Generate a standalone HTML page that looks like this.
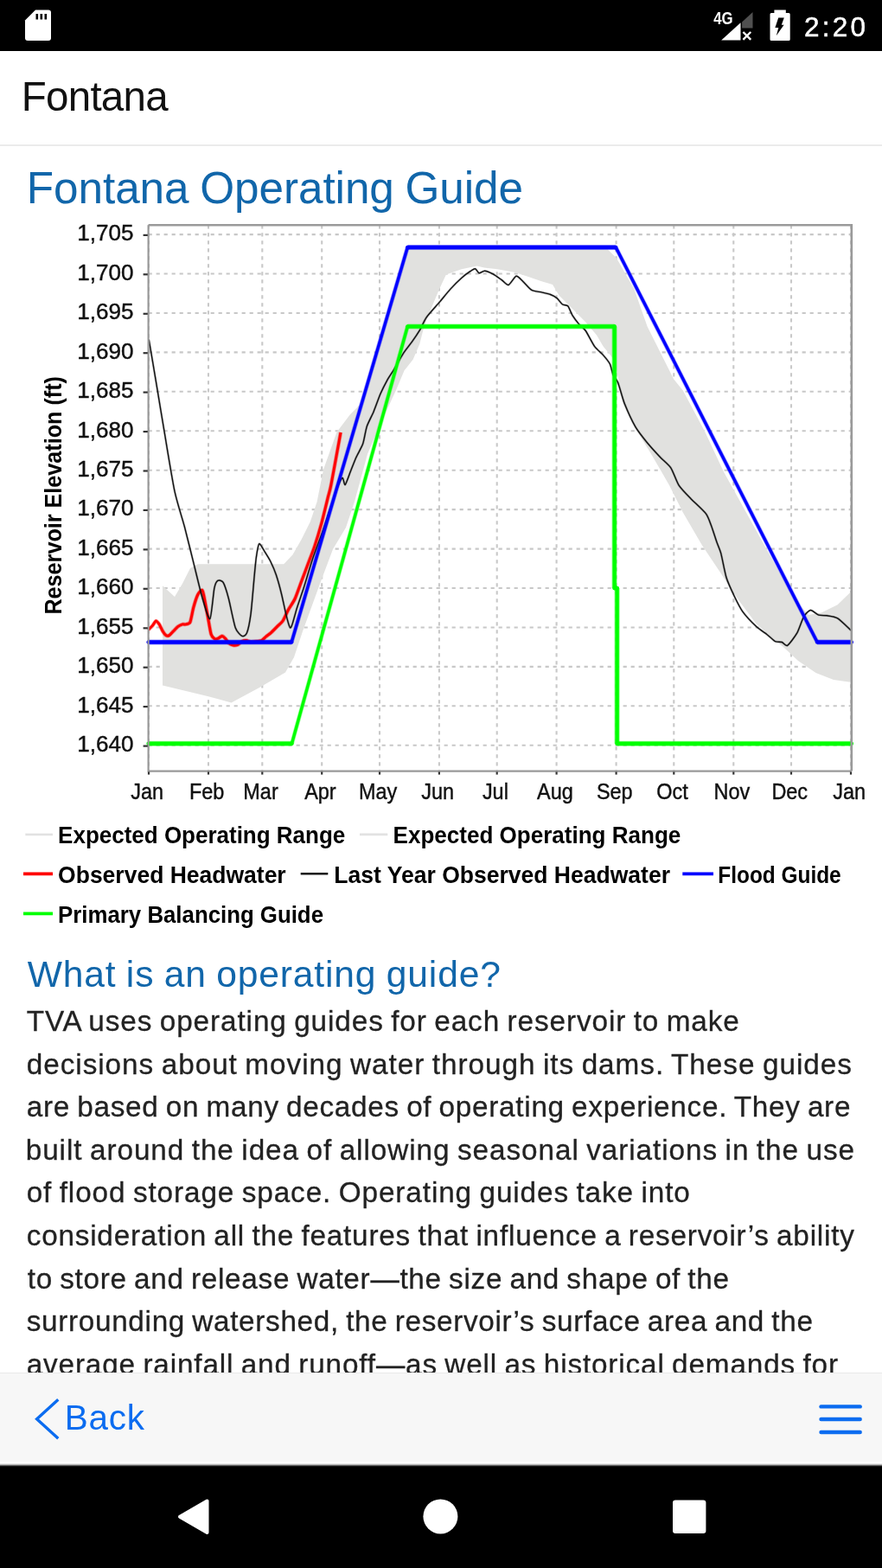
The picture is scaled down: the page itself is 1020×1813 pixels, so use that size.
<!DOCTYPE html>
<html lang="en"><head><meta charset="utf-8"><title>Fontana</title>
<meta name="viewport" content="width=1020">
<style>
html,body{margin:0;padding:0;background:#fff}
body{width:1020px;height:1813px;position:relative;overflow:hidden;font-family:'Liberation Sans', Arial, sans-serif}
.t{position:absolute;white-space:pre;line-height:1;margin:0;padding:0}
.p{-webkit-text-stroke:0.3px #222}
.clock{-webkit-text-stroke:0.5px #fff}
#status{position:absolute;left:0;top:0;width:1020px;height:59px;background:#000}
#header{position:absolute;left:0;top:59px;width:1020px;height:108px;background:#fff;border-bottom:2px solid #ebebeb}
#toolbar{position:absolute;left:0;top:1587px;width:1020px;height:102px;background:#f7f7f7;border-top:1px solid #e9e9e9;border-bottom:2px solid #fdfdfd}
#edge{position:absolute;left:0;top:1692px;width:1020px;height:4px;background:linear-gradient(#e6e6e6 0 25%,#b6b6b6 25% 50%,#606060 50% 75%,#151515 75% 100%)}
#nav{position:absolute;left:0;top:1696px;width:1020px;height:117px;background:#000}
svg{display:block}

</style></head><body>
<div id="status"></div><div id="header"></div>
<svg id="chart" width="1020" height="850" viewBox="0 250 1020 850" style="position:absolute;left:0;top:250px">
<g font-family="'Liberation Sans',Arial,sans-serif">
<rect x="171.6" y="260.3" width="813.2" height="631.3" fill="#fff" stroke="none"/>
<g stroke="#c8c8c8" stroke-width="2.1" stroke-dasharray="4.2 4.8" fill="none">
<line x1="172.0" y1="260.3" x2="172.0" y2="891.6"/>
<line x1="241.0" y1="260.3" x2="241.0" y2="891.6"/>
<line x1="303.3" y1="260.3" x2="303.3" y2="891.6"/>
<line x1="372.2" y1="260.3" x2="372.2" y2="891.6"/>
<line x1="439.0" y1="260.3" x2="439.0" y2="891.6"/>
<line x1="507.9" y1="260.3" x2="507.9" y2="891.6"/>
<line x1="574.7" y1="260.3" x2="574.7" y2="891.6"/>
<line x1="643.6" y1="260.3" x2="643.6" y2="891.6"/>
<line x1="712.6" y1="260.3" x2="712.6" y2="891.6"/>
<line x1="779.3" y1="260.3" x2="779.3" y2="891.6"/>
<line x1="848.3" y1="260.3" x2="848.3" y2="891.6"/>
<line x1="915.0" y1="260.3" x2="915.0" y2="891.6"/>
<line x1="984.0" y1="260.3" x2="984.0" y2="891.6"/>
<line x1="171.6" y1="861.8" x2="984.8" y2="861.8"/>
<line x1="171.6" y1="816.3" x2="984.8" y2="816.3"/>
<line x1="171.6" y1="770.9" x2="984.8" y2="770.9"/>
<line x1="171.6" y1="725.5" x2="984.8" y2="725.5"/>
<line x1="171.6" y1="680.0" x2="984.8" y2="680.0"/>
<line x1="171.6" y1="634.6" x2="984.8" y2="634.6"/>
<line x1="171.6" y1="589.1" x2="984.8" y2="589.1"/>
<line x1="171.6" y1="543.7" x2="984.8" y2="543.7"/>
<line x1="171.6" y1="498.3" x2="984.8" y2="498.3"/>
<line x1="171.6" y1="452.8" x2="984.8" y2="452.8"/>
<line x1="171.6" y1="407.4" x2="984.8" y2="407.4"/>
<line x1="171.6" y1="362.0" x2="984.8" y2="362.0"/>
<line x1="171.6" y1="316.5" x2="984.8" y2="316.5"/>
<line x1="171.6" y1="271.1" x2="984.8" y2="271.1"/>
</g>
<polygon points="188.0,792.5 188.0,677.3 202.0,690.0 211.0,674.7 220.0,656.9 228.8,652.3 328.2,652.3 338.4,641.6 348.6,623.7 358.8,603.3 366.5,580.4 374.0,543.0 389.4,499.8 404.7,479.4 420.0,464.0 471.3,287.0 702.7,288.2 713.0,298.4 733.3,334.1 748.6,377.5 763.9,408.0 779.2,438.6 789.8,451.4 814.9,498.4 836.9,545.5 868.2,602.0 899.6,658.4 920.0,694.0 935.0,711.0 949.8,708.6 968.6,699.2 984.8,683.5 984.8,788.4 981.8,788.4 964.0,786.0 943.5,778.0 923.0,764.0 905.3,747.6 899.6,743.1 874.5,721.2 855.7,696.1 836.9,667.8 811.8,630.2 789.8,592.5 774.1,561.2 752.2,523.5 734.9,495.3 720.8,467.1 711.4,420.0 707.8,413.1 697.6,400.4 690.0,387.6 677.3,372.4 662.0,357.1 646.7,341.8 639.0,329.0 626.3,325.2 611.0,320.1 595.7,315.0 575.3,311.2 560.0,309.5 551.6,307.4 533.7,311.2 515.9,317.5 508.2,334.1 500.6,352.0 490.4,377.5 485.3,397.8 477.6,415.7 467.5,428.4 458.5,450.1 440.0,490.0 425.0,525.0 410.0,580.0 400.0,610.0 385.0,635.0 370.0,675.0 350.0,730.0 340.0,760.0 330.0,777.5 300.0,795.0 267.5,812.5 240.0,805.0" fill="#e1e1df"/>
<path d="M171.5,728.2C172.1,727.6 175.6,724.3 176.6,723.1C177.6,721.9 179.5,718.1 180.4,718.0C181.3,717.9 183.3,720.6 184.2,721.9C185.1,723.2 187.1,728.0 188.0,729.5C188.9,731.0 191.0,734.0 191.9,734.6C192.8,735.2 194.7,735.2 195.7,734.6C196.7,734.0 199.6,730.7 200.8,729.5C202.0,728.3 204.7,725.3 205.9,724.4C207.1,723.5 210.0,722.2 211.0,721.9C212.0,721.6 213.8,722.2 214.8,721.9C215.8,721.6 218.9,721.5 219.9,719.3C220.9,717.1 222.7,706.4 223.7,702.7C224.7,699.0 227.6,689.9 228.8,687.5C230.0,685.1 233.0,681.8 233.9,682.4C234.8,683.0 235.8,688.9 236.5,692.5C237.2,696.1 239.4,708.1 240.3,712.9C241.2,717.7 243.2,730.3 244.1,733.3C245.0,736.3 247.0,737.8 247.9,738.4C248.8,739.0 250.8,738.8 251.8,738.4C252.8,738.0 255.9,735.4 256.9,735.4C257.9,735.4 259.8,737.5 260.7,738.4C261.6,739.3 263.5,742.6 264.5,743.5C265.5,744.4 268.4,745.9 269.6,746.1C270.8,746.3 273.5,746.1 274.7,745.6C275.9,745.1 278.6,742.1 279.8,741.5C281.0,740.9 283.7,740.4 284.9,740.5C286.1,740.6 288.5,742.2 290.0,742.3C291.5,742.4 296.1,741.7 297.6,741.5C299.1,741.3 301.5,741.2 302.7,740.5C303.9,739.8 306.6,736.9 307.8,735.9C309.0,734.9 311.4,733.4 312.9,732.1C314.4,730.8 319.0,726.0 320.6,724.4C322.2,722.8 325.5,720.2 327.0,718.0C328.5,715.8 331.7,708.3 333.3,705.3C334.9,702.3 339.2,696.4 341.0,692.5C342.8,688.6 346.8,676.9 348.6,672.2C350.4,667.5 354.5,656.6 356.3,651.8C358.1,647.0 362.1,636.8 363.9,631.4C365.7,626.0 369.8,612.4 371.6,605.9C373.4,599.4 377.9,580.7 379.2,575.3C380.5,569.9 381.3,568.8 383.0,560.0C384.7,551.2 392.7,507.0 394.0,500.0" fill="none" stroke="#ff0000" stroke-opacity="0.4" stroke-width="4.6" stroke-linejoin="round"/>
<path d="M171.5,728.2C172.1,727.6 175.6,724.3 176.6,723.1C177.6,721.9 179.5,718.1 180.4,718.0C181.3,717.9 183.3,720.6 184.2,721.9C185.1,723.2 187.1,728.0 188.0,729.5C188.9,731.0 191.0,734.0 191.9,734.6C192.8,735.2 194.7,735.2 195.7,734.6C196.7,734.0 199.6,730.7 200.8,729.5C202.0,728.3 204.7,725.3 205.9,724.4C207.1,723.5 210.0,722.2 211.0,721.9C212.0,721.6 213.8,722.2 214.8,721.9C215.8,721.6 218.9,721.5 219.9,719.3C220.9,717.1 222.7,706.4 223.7,702.7C224.7,699.0 227.6,689.9 228.8,687.5C230.0,685.1 233.0,681.8 233.9,682.4C234.8,683.0 235.8,688.9 236.5,692.5C237.2,696.1 239.4,708.1 240.3,712.9C241.2,717.7 243.2,730.3 244.1,733.3C245.0,736.3 247.0,737.8 247.9,738.4C248.8,739.0 250.8,738.8 251.8,738.4C252.8,738.0 255.9,735.4 256.9,735.4C257.9,735.4 259.8,737.5 260.7,738.4C261.6,739.3 263.5,742.6 264.5,743.5C265.5,744.4 268.4,745.9 269.6,746.1C270.8,746.3 273.5,746.1 274.7,745.6C275.9,745.1 278.6,742.1 279.8,741.5C281.0,740.9 283.7,740.4 284.9,740.5C286.1,740.6 288.5,742.2 290.0,742.3C291.5,742.4 296.1,741.7 297.6,741.5C299.1,741.3 301.5,741.2 302.7,740.5C303.9,739.8 306.6,736.9 307.8,735.9C309.0,734.9 311.4,733.4 312.9,732.1C314.4,730.8 319.0,726.0 320.6,724.4C322.2,722.8 325.5,720.2 327.0,718.0C328.5,715.8 331.7,708.3 333.3,705.3C334.9,702.3 339.2,696.4 341.0,692.5C342.8,688.6 346.8,676.9 348.6,672.2C350.4,667.5 354.5,656.6 356.3,651.8C358.1,647.0 362.1,636.8 363.9,631.4C365.7,626.0 369.8,612.4 371.6,605.9C373.4,599.4 377.9,580.7 379.2,575.3C380.5,569.9 381.3,568.8 383.0,560.0C384.7,551.2 392.7,507.0 394.0,500.0" fill="none" stroke="#ff0000" stroke-width="3.0" stroke-linejoin="round"/>
<path d="M172.2,392.7C173.2,398.4 178.3,428.4 180.4,441.2C182.5,454.0 188.1,487.5 190.6,502.4C193.1,517.3 199.4,556.1 202.1,568.6C204.8,581.1 211.0,599.9 213.5,609.4C216.0,618.9 221.3,640.7 223.7,650.2C226.1,659.7 231.7,683.4 233.9,691.0C236.1,698.6 241.2,716.8 242.8,715.5C244.4,714.2 246.8,684.9 247.9,679.8C249.0,674.7 250.6,672.1 251.8,671.4C253.0,670.7 256.6,670.9 258.1,673.4C259.6,675.9 262.9,686.4 264.5,692.5C266.1,698.6 270.4,720.7 272.2,725.7C274.0,730.7 278.3,734.7 279.8,735.4C281.3,736.1 284.2,735.0 285.4,732.1C286.6,729.2 289.0,717.7 290.0,710.4C291.0,703.1 293.1,677.3 293.8,669.6C294.5,661.9 295.7,648.9 296.4,644.1C297.1,639.3 298.7,629.7 299.7,628.8C300.7,627.9 303.8,634.1 305.3,636.5C306.8,638.9 311.3,645.9 312.9,649.2C314.5,652.5 317.8,660.0 319.3,664.5C320.8,669.0 324.4,682.1 325.7,687.5C327.0,692.9 329.7,705.9 330.8,710.4C331.9,714.9 334.5,724.5 335.4,725.7C336.3,726.9 337.5,723.3 338.4,720.6C339.3,717.9 342.0,707.5 343.5,702.7C345.0,697.9 349.1,686.3 351.2,679.8C353.3,673.3 359.0,653.8 361.4,646.7C363.8,639.6 369.2,625.4 371.6,618.6C374.0,611.8 379.6,594.5 381.8,588.0C384.0,581.5 389.0,566.6 390.7,562.5C392.4,558.4 395.1,552.7 396.1,552.5C397.1,552.3 398.1,561.3 399.2,560.4C400.3,559.5 404.0,548.4 405.5,544.7C407.0,541.0 410.2,532.7 411.8,529.0C413.4,525.3 418.1,517.5 419.6,513.3C421.1,509.1 422.8,497.3 424.3,492.9C425.8,488.5 430.4,480.1 432.2,475.7C434.0,471.3 438.2,459.5 440.0,455.3C441.8,451.1 446.0,442.9 447.8,439.6C449.6,436.3 453.5,430.8 455.7,427.1C457.9,423.4 464.3,411.9 466.7,408.2C469.1,404.5 473.9,398.8 476.1,395.7C478.3,392.6 483.5,384.9 485.5,381.6C487.5,378.3 490.3,371.1 492.9,367.3C495.5,363.5 504.9,353.3 508.2,349.4C511.5,345.5 518.0,337.4 521.0,334.1C524.0,330.8 531.0,323.8 533.7,321.4C536.4,319.0 542.1,314.9 543.9,313.7C545.7,312.5 548.3,310.5 549.5,310.7C550.7,310.9 552.8,315.5 554.1,315.8C555.4,316.1 558.6,313.1 560.5,313.2C562.4,313.3 567.9,315.6 570.2,316.8C572.5,318.0 578.3,322.4 580.4,323.9C582.5,325.4 586.1,330.0 588.0,329.5C589.9,329.0 595.1,319.8 597.0,319.3C598.9,318.8 602.5,323.3 604.6,325.2C606.7,327.1 612.3,333.9 614.8,335.4C617.3,336.9 623.8,337.3 626.3,337.9C628.8,338.5 634.4,339.7 636.5,340.5C638.6,341.3 642.5,343.5 644.1,344.8C645.7,346.1 649.0,350.9 650.5,352.0C652.0,353.1 655.6,352.5 656.9,354.0C658.2,355.5 660.5,362.3 662.0,364.7C663.5,367.1 667.8,372.8 669.6,374.9C671.4,377.0 675.2,379.5 677.3,382.5C679.4,385.5 685.1,397.1 687.5,400.4C689.9,403.7 695.5,408.2 697.6,410.6C699.7,413.0 704.0,418.1 705.3,420.8C706.6,423.5 708.0,431.0 709.1,433.5C710.2,436.0 712.9,438.1 714.5,442.0C716.1,445.9 720.0,461.1 722.4,467.1C724.8,473.1 731.8,488.4 734.9,493.7C738.0,499.0 745.7,508.5 749.0,512.5C752.3,516.5 760.0,524.9 763.1,528.2C766.2,531.5 773.1,536.9 775.7,540.8C778.3,544.6 782.4,557.0 785.1,561.2C787.8,565.4 795.5,573.1 799.2,576.9C802.9,580.7 813.8,590.4 816.5,594.1C819.2,597.8 821.2,604.4 822.7,608.2C824.2,612.1 827.7,623.4 829.0,627.1C830.3,630.8 832.4,634.9 833.7,639.6C835.0,644.3 838.2,661.9 840.0,667.8C841.8,673.7 847.2,685.2 849.4,689.8C851.6,694.4 855.9,703.1 858.8,707.1C861.7,711.1 871.2,721.2 874.5,724.3C877.8,727.4 884.5,731.7 887.1,733.7C889.7,735.7 894.5,740.6 896.5,741.6C898.5,742.6 902.7,742.0 904.3,742.5C905.9,743.0 908.6,747.5 910.6,746.3C912.6,745.1 919.4,736.1 921.6,732.2C923.8,728.4 927.6,716.4 929.4,713.3C931.2,710.2 935.3,705.8 937.3,705.5C939.3,705.2 944.5,710.4 946.7,711.1C948.9,711.8 953.5,711.4 956.1,711.8C958.7,712.2 965.3,712.9 968.6,714.9C971.9,716.9 982.5,727.4 984.3,729.0" fill="none" stroke="#000" stroke-opacity="0.25" stroke-width="2.6" stroke-linejoin="round"/>
<path d="M172.2,392.7C173.2,398.4 178.3,428.4 180.4,441.2C182.5,454.0 188.1,487.5 190.6,502.4C193.1,517.3 199.4,556.1 202.1,568.6C204.8,581.1 211.0,599.9 213.5,609.4C216.0,618.9 221.3,640.7 223.7,650.2C226.1,659.7 231.7,683.4 233.9,691.0C236.1,698.6 241.2,716.8 242.8,715.5C244.4,714.2 246.8,684.9 247.9,679.8C249.0,674.7 250.6,672.1 251.8,671.4C253.0,670.7 256.6,670.9 258.1,673.4C259.6,675.9 262.9,686.4 264.5,692.5C266.1,698.6 270.4,720.7 272.2,725.7C274.0,730.7 278.3,734.7 279.8,735.4C281.3,736.1 284.2,735.0 285.4,732.1C286.6,729.2 289.0,717.7 290.0,710.4C291.0,703.1 293.1,677.3 293.8,669.6C294.5,661.9 295.7,648.9 296.4,644.1C297.1,639.3 298.7,629.7 299.7,628.8C300.7,627.9 303.8,634.1 305.3,636.5C306.8,638.9 311.3,645.9 312.9,649.2C314.5,652.5 317.8,660.0 319.3,664.5C320.8,669.0 324.4,682.1 325.7,687.5C327.0,692.9 329.7,705.9 330.8,710.4C331.9,714.9 334.5,724.5 335.4,725.7C336.3,726.9 337.5,723.3 338.4,720.6C339.3,717.9 342.0,707.5 343.5,702.7C345.0,697.9 349.1,686.3 351.2,679.8C353.3,673.3 359.0,653.8 361.4,646.7C363.8,639.6 369.2,625.4 371.6,618.6C374.0,611.8 379.6,594.5 381.8,588.0C384.0,581.5 389.0,566.6 390.7,562.5C392.4,558.4 395.1,552.7 396.1,552.5C397.1,552.3 398.1,561.3 399.2,560.4C400.3,559.5 404.0,548.4 405.5,544.7C407.0,541.0 410.2,532.7 411.8,529.0C413.4,525.3 418.1,517.5 419.6,513.3C421.1,509.1 422.8,497.3 424.3,492.9C425.8,488.5 430.4,480.1 432.2,475.7C434.0,471.3 438.2,459.5 440.0,455.3C441.8,451.1 446.0,442.9 447.8,439.6C449.6,436.3 453.5,430.8 455.7,427.1C457.9,423.4 464.3,411.9 466.7,408.2C469.1,404.5 473.9,398.8 476.1,395.7C478.3,392.6 483.5,384.9 485.5,381.6C487.5,378.3 490.3,371.1 492.9,367.3C495.5,363.5 504.9,353.3 508.2,349.4C511.5,345.5 518.0,337.4 521.0,334.1C524.0,330.8 531.0,323.8 533.7,321.4C536.4,319.0 542.1,314.9 543.9,313.7C545.7,312.5 548.3,310.5 549.5,310.7C550.7,310.9 552.8,315.5 554.1,315.8C555.4,316.1 558.6,313.1 560.5,313.2C562.4,313.3 567.9,315.6 570.2,316.8C572.5,318.0 578.3,322.4 580.4,323.9C582.5,325.4 586.1,330.0 588.0,329.5C589.9,329.0 595.1,319.8 597.0,319.3C598.9,318.8 602.5,323.3 604.6,325.2C606.7,327.1 612.3,333.9 614.8,335.4C617.3,336.9 623.8,337.3 626.3,337.9C628.8,338.5 634.4,339.7 636.5,340.5C638.6,341.3 642.5,343.5 644.1,344.8C645.7,346.1 649.0,350.9 650.5,352.0C652.0,353.1 655.6,352.5 656.9,354.0C658.2,355.5 660.5,362.3 662.0,364.7C663.5,367.1 667.8,372.8 669.6,374.9C671.4,377.0 675.2,379.5 677.3,382.5C679.4,385.5 685.1,397.1 687.5,400.4C689.9,403.7 695.5,408.2 697.6,410.6C699.7,413.0 704.0,418.1 705.3,420.8C706.6,423.5 708.0,431.0 709.1,433.5C710.2,436.0 712.9,438.1 714.5,442.0C716.1,445.9 720.0,461.1 722.4,467.1C724.8,473.1 731.8,488.4 734.9,493.7C738.0,499.0 745.7,508.5 749.0,512.5C752.3,516.5 760.0,524.9 763.1,528.2C766.2,531.5 773.1,536.9 775.7,540.8C778.3,544.6 782.4,557.0 785.1,561.2C787.8,565.4 795.5,573.1 799.2,576.9C802.9,580.7 813.8,590.4 816.5,594.1C819.2,597.8 821.2,604.4 822.7,608.2C824.2,612.1 827.7,623.4 829.0,627.1C830.3,630.8 832.4,634.9 833.7,639.6C835.0,644.3 838.2,661.9 840.0,667.8C841.8,673.7 847.2,685.2 849.4,689.8C851.6,694.4 855.9,703.1 858.8,707.1C861.7,711.1 871.2,721.2 874.5,724.3C877.8,727.4 884.5,731.7 887.1,733.7C889.7,735.7 894.5,740.6 896.5,741.6C898.5,742.6 902.7,742.0 904.3,742.5C905.9,743.0 908.6,747.5 910.6,746.3C912.6,745.1 919.4,736.1 921.6,732.2C923.8,728.4 927.6,716.4 929.4,713.3C931.2,710.2 935.3,705.8 937.3,705.5C939.3,705.2 944.5,710.4 946.7,711.1C948.9,711.8 953.5,711.4 956.1,711.8C958.7,712.2 965.3,712.9 968.6,714.9C971.9,716.9 982.5,727.4 984.3,729.0" fill="none" stroke="#111" stroke-width="1.4" stroke-linejoin="round"/>
<g stroke="#0000ff" stroke-opacity="0.4" stroke-linecap="butt"><line x1="171.6" y1="742.5" x2="337.2" y2="742.5" stroke-width="6.2"/><line x1="337.2" y1="742.5" x2="471.3" y2="286.0" stroke-width="4.9"/><line x1="471.3" y1="286.0" x2="712.2" y2="286.0" stroke-width="6.2"/><line x1="712.2" y1="286.0" x2="945.1" y2="742.5" stroke-width="4.9"/><line x1="945.1" y1="742.5" x2="984.8" y2="742.5" stroke-width="6.2"/></g>
<g stroke="#0000ff" stroke-linecap="round"><line x1="171.6" y1="742.5" x2="337.2" y2="742.5" stroke-width="4.4"/><line x1="337.2" y1="742.5" x2="471.3" y2="286.0" stroke-width="3.4"/><line x1="471.3" y1="286.0" x2="712.2" y2="286.0" stroke-width="4.4"/><line x1="712.2" y1="286.0" x2="945.1" y2="742.5" stroke-width="3.4"/><line x1="945.1" y1="742.5" x2="984.8" y2="742.5" stroke-width="4.4"/></g>
<g stroke="#00ff00" stroke-opacity="0.4" stroke-linecap="butt"><line x1="171.6" y1="859.8" x2="337.5" y2="859.8" stroke-width="6.2"/><line x1="337.5" y1="859.8" x2="471.3" y2="377.5" stroke-width="4.9"/><line x1="471.3" y1="377.5" x2="710.6" y2="377.5" stroke-width="6.2"/><line x1="710.6" y1="377.5" x2="710.6" y2="680.0" stroke-width="6.2"/><line x1="710.6" y1="680.0" x2="713.6" y2="680.0" stroke-width="6.2"/><line x1="713.6" y1="680.0" x2="713.6" y2="859.8" stroke-width="6.2"/><line x1="713.6" y1="859.8" x2="984.8" y2="859.8" stroke-width="6.2"/></g>
<g stroke="#00ff00" stroke-linecap="round"><line x1="171.6" y1="859.8" x2="337.5" y2="859.8" stroke-width="4.4"/><line x1="337.5" y1="859.8" x2="471.3" y2="377.5" stroke-width="3.4"/><line x1="471.3" y1="377.5" x2="710.6" y2="377.5" stroke-width="4.4"/><line x1="710.6" y1="377.5" x2="710.6" y2="680.0" stroke-width="4.4"/><line x1="710.6" y1="680.0" x2="713.6" y2="680.0" stroke-width="4.4"/><line x1="713.6" y1="680.0" x2="713.6" y2="859.8" stroke-width="4.4"/><line x1="713.6" y1="859.8" x2="984.8" y2="859.8" stroke-width="4.4"/></g>
<path d="M171.6,260.3 H984.8 V891.6" fill="none" stroke="#9a9a9a" stroke-width="2.6"/>
<path d="M171.6,260.3 V891.6 H984.8" fill="none" stroke="#999" stroke-width="2.2"/>
<g stroke="#333" stroke-width="2.2">
<line x1="172.0" y1="892.4" x2="172.0" y2="895.6"/>
<line x1="241.0" y1="892.4" x2="241.0" y2="895.6"/>
<line x1="303.3" y1="892.4" x2="303.3" y2="895.6"/>
<line x1="372.2" y1="892.4" x2="372.2" y2="895.6"/>
<line x1="439.0" y1="892.4" x2="439.0" y2="895.6"/>
<line x1="507.9" y1="892.4" x2="507.9" y2="895.6"/>
<line x1="574.7" y1="892.4" x2="574.7" y2="895.6"/>
<line x1="643.6" y1="892.4" x2="643.6" y2="895.6"/>
<line x1="712.6" y1="892.4" x2="712.6" y2="895.6"/>
<line x1="779.3" y1="892.4" x2="779.3" y2="895.6"/>
<line x1="848.3" y1="892.4" x2="848.3" y2="895.6"/>
<line x1="915.0" y1="892.4" x2="915.0" y2="895.6"/>
<line x1="984.0" y1="892.4" x2="984.0" y2="895.6"/>
<line x1="165.6" y1="862.6" x2="170.79999999999998" y2="862.6"/>
<line x1="165.6" y1="817.1" x2="170.79999999999998" y2="817.1"/>
<line x1="165.6" y1="771.7" x2="170.79999999999998" y2="771.7"/>
<line x1="165.6" y1="726.3" x2="170.79999999999998" y2="726.3"/>
<line x1="165.6" y1="680.8" x2="170.79999999999998" y2="680.8"/>
<line x1="165.6" y1="635.4" x2="170.79999999999998" y2="635.4"/>
<line x1="165.6" y1="589.9" x2="170.79999999999998" y2="589.9"/>
<line x1="165.6" y1="544.5" x2="170.79999999999998" y2="544.5"/>
<line x1="165.6" y1="499.1" x2="170.79999999999998" y2="499.1"/>
<line x1="165.6" y1="453.6" x2="170.79999999999998" y2="453.6"/>
<line x1="165.6" y1="408.2" x2="170.79999999999998" y2="408.2"/>
<line x1="165.6" y1="362.8" x2="170.79999999999998" y2="362.8"/>
<line x1="165.6" y1="317.3" x2="170.79999999999998" y2="317.3"/>
<line x1="165.6" y1="271.9" x2="170.79999999999998" y2="271.9"/>
</g>
<g font-size="26.4" fill="#111" stroke="#111" stroke-width="0.45">
<text x="89.3" y="869.0" textLength="65.3" lengthAdjust="spacingAndGlyphs">1,640</text>
<text x="89.3" y="823.5" textLength="65.3" lengthAdjust="spacingAndGlyphs">1,645</text>
<text x="89.3" y="778.1" textLength="65.3" lengthAdjust="spacingAndGlyphs">1,650</text>
<text x="89.3" y="732.7" textLength="65.3" lengthAdjust="spacingAndGlyphs">1,655</text>
<text x="89.3" y="687.2" textLength="65.3" lengthAdjust="spacingAndGlyphs">1,660</text>
<text x="89.3" y="641.8" textLength="65.3" lengthAdjust="spacingAndGlyphs">1,665</text>
<text x="89.3" y="596.3" textLength="65.3" lengthAdjust="spacingAndGlyphs">1,670</text>
<text x="89.3" y="550.9" textLength="65.3" lengthAdjust="spacingAndGlyphs">1,675</text>
<text x="89.3" y="505.5" textLength="65.3" lengthAdjust="spacingAndGlyphs">1,680</text>
<text x="89.3" y="460.0" textLength="65.3" lengthAdjust="spacingAndGlyphs">1,685</text>
<text x="89.3" y="414.6" textLength="65.3" lengthAdjust="spacingAndGlyphs">1,690</text>
<text x="89.3" y="369.2" textLength="65.3" lengthAdjust="spacingAndGlyphs">1,695</text>
<text x="89.3" y="323.7" textLength="65.3" lengthAdjust="spacingAndGlyphs">1,700</text>
<text x="89.3" y="278.3" textLength="65.3" lengthAdjust="spacingAndGlyphs">1,705</text>
<text x="151.3" y="924.3" textLength="37.8" lengthAdjust="spacingAndGlyphs">Jan</text>
<text x="219.0" y="924.3" textLength="40.4" lengthAdjust="spacingAndGlyphs">Feb</text>
<text x="281.3" y="924.3" textLength="40.4" lengthAdjust="spacingAndGlyphs">Mar</text>
<text x="352.2" y="924.3" textLength="36.5" lengthAdjust="spacingAndGlyphs">Apr</text>
<text x="415.0" y="924.3" textLength="44.3" lengthAdjust="spacingAndGlyphs">May</text>
<text x="487.2" y="924.3" textLength="37.8" lengthAdjust="spacingAndGlyphs">Jun</text>
<text x="557.9" y="924.3" textLength="30.0" lengthAdjust="spacingAndGlyphs">Jul</text>
<text x="621.0" y="924.3" textLength="41.7" lengthAdjust="spacingAndGlyphs">Aug</text>
<text x="689.9" y="924.3" textLength="41.7" lengthAdjust="spacingAndGlyphs">Sep</text>
<text x="759.3" y="924.3" textLength="36.5" lengthAdjust="spacingAndGlyphs">Oct</text>
<text x="825.6" y="924.3" textLength="41.7" lengthAdjust="spacingAndGlyphs">Nov</text>
<text x="892.4" y="924.3" textLength="41.7" lengthAdjust="spacingAndGlyphs">Dec</text>
<text x="963.3" y="924.3" textLength="37.8" lengthAdjust="spacingAndGlyphs">Jan</text>
</g>
<text transform="translate(70.7,710.6) rotate(-90)" font-size="27.5" font-weight="bold" fill="#000" textLength="275.6" lengthAdjust="spacingAndGlyphs">Reservoir Elevation (ft)</text>
<g font-size="27" font-weight="bold" fill="#000">
<line x1="29.3" y1="964.9" x2="61" y2="964.9" stroke="#e2e2e2" stroke-width="2.6"/>
<text x="67.1" y="974.7" textLength="332.2" lengthAdjust="spacingAndGlyphs">Expected Operating Range</text>
<line x1="416" y1="964.9" x2="448.3" y2="964.9" stroke="#e2e2e2" stroke-width="2.6"/>
<text x="454.6" y="974.7" textLength="332.7" lengthAdjust="spacingAndGlyphs">Expected Operating Range</text>
<line x1="27" y1="1010.3" x2="61" y2="1010.3" stroke="#ff0000" stroke-width="3.8"/>
<text x="67.1" y="1021.3" textLength="263.6" lengthAdjust="spacingAndGlyphs">Observed Headwater</text>
<line x1="347.7" y1="1010.3" x2="379.3" y2="1010.3" stroke="#111" stroke-width="2.6"/>
<text x="386.3" y="1021.3" textLength="388.7" lengthAdjust="spacingAndGlyphs">Last Year Observed Headwater</text>
<line x1="789.3" y1="1010.3" x2="825" y2="1010.3" stroke="#0000ff" stroke-width="3.8"/>
<text x="830.3" y="1021.3" textLength="142.4" lengthAdjust="spacingAndGlyphs">Flood Guide</text>
<line x1="27" y1="1056.3" x2="61" y2="1056.3" stroke="#00ff00" stroke-width="3.8"/>
<text x="67.1" y="1067.3" textLength="306.9" lengthAdjust="spacingAndGlyphs">Primary Balancing Guide</text>
</g>
</g></svg>
<div class="t title" style="left:24.8px;top:88.4px;font-size:47.5px;font-weight:400;color:#111;letter-spacing:-0.750px;word-spacing:0.00px">Fontana</div>
<h1 class="t h1" style="left:30.8px;top:192.0px;font-size:51.3px;font-weight:400;color:#1166aa;letter-spacing:-0.073px;word-spacing:-1.50px">Fontana Operating Guide</h1>
<h2 class="t h2" style="left:31.7px;top:1105.3px;font-size:42.6px;font-weight:400;color:#1166aa;letter-spacing:0.846px;word-spacing:-1.30px">What is an operating guide?</h2>
<p style="margin:0">
<span class="t p" style="left:30.7px;top:1163.9px;font-size:33.3px;font-weight:400;color:#222;letter-spacing:0.906px;word-spacing:-1.70px">TVA uses operating guides for each reservoir to make</span>
<span class="t p" style="left:30.7px;top:1213.5px;font-size:33.3px;font-weight:400;color:#222;letter-spacing:0.964px;word-spacing:-1.70px">decisions about moving water through its dams. These guides</span>
<span class="t p" style="left:30.7px;top:1263.1px;font-size:33.3px;font-weight:400;color:#222;letter-spacing:0.712px;word-spacing:-1.70px">are based on many decades of operating experience. They are</span>
<span class="t p" style="left:29.7px;top:1312.7px;font-size:33.3px;font-weight:400;color:#222;letter-spacing:0.937px;word-spacing:-1.70px">built around the idea of allowing seasonal variations in the use</span>
<span class="t p" style="left:30.7px;top:1362.3px;font-size:33.3px;font-weight:400;color:#222;letter-spacing:0.902px;word-spacing:-1.70px">of flood storage space. Operating guides take into</span>
<span class="t p" style="left:30.7px;top:1411.9px;font-size:33.3px;font-weight:400;color:#222;letter-spacing:0.791px;word-spacing:-1.70px">consideration all the features that influence a reservoir’s ability</span>
<span class="t p" style="left:31.7px;top:1461.5px;font-size:33.3px;font-weight:400;color:#222;letter-spacing:0.712px;word-spacing:-1.70px">to store and release water—the size and shape of the</span>
<span class="t p" style="left:30.7px;top:1511.1px;font-size:33.3px;font-weight:400;color:#222;letter-spacing:0.681px;word-spacing:-1.70px">surrounding watershed, the reservoir’s surface area and the</span>
<span class="t p" style="left:30.7px;top:1560.7px;font-size:33.3px;font-weight:400;color:#222;letter-spacing:0.853px;word-spacing:-1.70px">average rainfall and runoff—as well as historical demands for</span>
</p>
<div id="toolbar"></div>
<span class="t back" style="left:74.7px;top:1618.8px;font-size:40.4px;font-weight:400;color:#0b6cf0;letter-spacing:0.833px;word-spacing:0.00px">Back</span>
<svg width="1020" height="107" viewBox="0 1587 1020 107" style="position:absolute;left:0;top:1587px"><path d="M67.3,1618.3 L42.6,1640.8 L67.3,1663.3" fill="none" stroke="#0b6cf0" stroke-width="3.4" stroke-linecap="butt" stroke-linejoin="miter"/><g stroke="#0b6cf0" stroke-width="4.4" stroke-linecap="round"><line x1="949.5" y1="1626.4" x2="994.7" y2="1626.4"/><line x1="949.5" y1="1641" x2="994.7" y2="1641"/><line x1="949.5" y1="1656" x2="994.7" y2="1656"/></g></svg>
<div id="edge"></div><div id="nav"></div>
<svg width="1020" height="119" viewBox="0 1694 1020 119" style="position:absolute;left:0;top:1694px"><path d="M239.5,1735.5 L239.5,1772 L208,1753.8 Z" fill="#fff" stroke="#fff" stroke-width="4" stroke-linejoin="round"/><circle cx="509.4" cy="1753.4" r="20" fill="#fff"/><rect x="778" y="1734.5" width="38.4" height="38.4" rx="3" fill="#fff"/></svg>
<svg width="1020" height="58" viewBox="0 0 1020 58" style="position:absolute;left:0;top:0"><path d="M41,11.5 H56 Q59,11.5 59,14.5 V44 Q59,47 56,47 H32 Q29,47 29,44 V23.5 Z" fill="#fff"/><g fill="#000"><rect x="41.5" y="16" width="2.6" height="6.5"/><rect x="46.5" y="16" width="2.6" height="6.5"/><rect x="51.5" y="16" width="2.6" height="6.5"/></g><path d="M858.1,25.4 L870.5,14.1 V32.6 H858.1 Z" fill="#505050"/><path d="M834.2,46.6 L856.5,26.3 V46.6 Z" fill="#fff"/><path d="M859.4,37 L868.2,45.8 M868.2,37 L859.4,45.8" stroke="#fff" stroke-width="2.4" fill="none"/><text x="825.2" y="27.8" font-family="'Liberation Sans',sans-serif" font-weight="bold" font-size="21" fill="#fff" textLength="22.4" lengthAdjust="spacingAndGlyphs">4G</text><path d="M895.4,11.5 H908.8 V15.1 H912.2 Q913.7,15.1 913.7,16.6 V45.6 Q913.7,47.1 912.2,47.1 H892 Q890.5,47.1 890.5,45.6 V16.6 Q890.5,15.1 892,15.1 H895.4 Z" fill="#fff"/><path d="M900.2,20.4 H906.8 L903.8,28.8 H906.6 L897.8,41.3 L900.3,32 H896.4 Z" fill="#000"/></svg>
<span class="t clock" style="left:930.0px;top:15.6px;font-size:31.5px;font-weight:400;color:#fff;letter-spacing:3.200px;word-spacing:0.00px">2:20</span>
</body></html>
